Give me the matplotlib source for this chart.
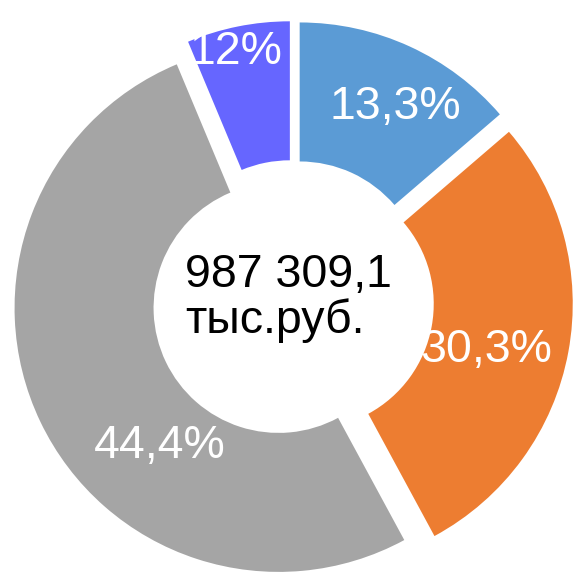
import matplotlib.pyplot as plt

# slice sizes as drawn in the picture (the printed labels differ slightly)
shares = [13.7, 28.4, 51.6, 6.3]
labels = ['13,3%', '30,3%', '44,4%', '12%']
colors = ['#5b9bd5', '#ed7d31', '#a5a5a5', '#6666ff']
total_text = '987 309,1\nтыс.руб.'

plt.rcParams['font.family'] = ['Liberation Sans', 'DejaVu Sans']

fig = plt.figure(figsize=(5.77, 5.73), dpi=100)
ax = fig.add_axes([0, 0, 1, 1])

# work in pixel-like units: y goes downward as negative
cx, cy = 293, -301
R = 264
ax.pie(shares, colors=colors, startangle=90, counterclock=False,
       center=(cx, cy), radius=R, explode=[16] * len(shares),
       wedgeprops=dict(width=139, linewidth=0))

label_pos = [(395, 107), (486, 350), (160, 446), (236, 52)]
for (x, y), lab in zip(label_pos, labels):
    ax.text(x, -y, lab, color='white', fontsize=33.5, ha='center', va='center')

ax.text(185, -298, total_text, fontsize=33.5, ha='left', va='center',
        linespacing=1.05, color='black')

ax.set_xlim(0, 577)
ax.set_ylim(-573, 0)
ax.set_aspect('equal')
ax.axis('off')

fig.savefig('out.png', dpi=100)
